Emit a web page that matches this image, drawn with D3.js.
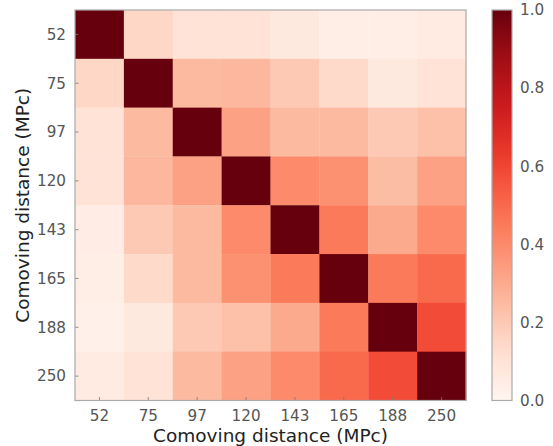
<!DOCTYPE html>
<html><head><meta charset="utf-8">
<script src="https://cdn.jsdelivr.net/npm/d3@7"></script>
<style>body{margin:0;background:#fff}svg{display:block;font-family:"DejaVu Sans",sans-serif}</style>
</head><body><svg id="c" width="553" height="446"></svg>
<script>
const distances = ["52","75","97","120","143","165","188","250"];
const row52  = [1.00,0.15,0.10,0.10,0.07,0.04,0.04,0.06];
const row75  = [0.15,1.00,0.25,0.26,0.20,0.14,0.07,0.10];
const row97  = [0.10,0.25,1.00,0.33,0.25,0.25,0.20,0.23];
const row120 = [0.10,0.26,0.33,1.00,0.40,0.38,0.24,0.33];
const row143 = [0.05,0.20,0.25,0.40,1.00,0.45,0.30,0.40];
const row165 = [0.04,0.14,0.25,0.38,0.45,1.00,0.45,0.50];
const row188 = [0.03,0.07,0.20,0.23,0.30,0.45,1.00,0.58];
const row250 = [0.06,0.10,0.25,0.33,0.40,0.50,0.58,1.00];
const matrix = [row52,row75,row97,row120,row143,row165,row188,row250];
const cbTicks = [0.0,0.2,0.4,0.6,0.8,1.0];

const svg = d3.select("#c");
const L=75, R=466, T=10, B=400.5;
const x = d3.scaleBand().domain(distances).range([L,R]);
const y = d3.scaleBand().domain(distances).range([T,B]);
const color = v => d3.interpolateReds(v);

const cells = [];
matrix.forEach((row,i)=>row.forEach((v,j)=>cells.push({r:distances[i],c:distances[j],v})));
svg.append("g").selectAll("rect").data(cells).join("rect")
  .attr("x",d=>x(d.c)).attr("y",d=>y(d.r))
  .attr("width",x.bandwidth()+0.3).attr("height",y.bandwidth()+0.3)
  .attr("fill",d=>color(d.v));

// ticks inside
const tickCol="#777";
svg.append("g").selectAll("line").data(distances).join("line")
  .attr("x1",d=>x(d)+x.bandwidth()/2).attr("x2",d=>x(d)+x.bandwidth()/2)
  .attr("y1",B).attr("y2",B-3.5).attr("stroke",tickCol).attr("stroke-width",0.8);
svg.append("g").selectAll("line").data(distances).join("line")
  .attr("y1",d=>y(d)+y.bandwidth()/2).attr("y2",d=>y(d)+y.bandwidth()/2)
  .attr("x1",L).attr("x2",L+3.5).attr("stroke",tickCol).attr("stroke-width",0.8);

svg.append("rect").attr("x",L).attr("y",T).attr("width",R-L).attr("height",B-T)
  .attr("fill","none").attr("stroke","#aaa").attr("stroke-width",1.2);

const lblCol="#555";
svg.append("g").selectAll("text").data(distances).join("text")
  .attr("x",d=>x(d)+x.bandwidth()/2).attr("y",B+20).attr("text-anchor","middle")
  .attr("font-size",15.2).attr("fill",lblCol).text(d=>d);
svg.append("g").selectAll("text").data(distances).join("text")
  .attr("x",L-9).attr("y",d=>y(d)+y.bandwidth()/2).attr("dy","0.35em").attr("text-anchor","end")
  .attr("font-size",15.2).attr("fill",lblCol).text(d=>d);

svg.append("text").attr("x",(L+R)/2).attr("y",441.5).attr("text-anchor","middle")
  .attr("font-size",18.5).attr("fill","#222").text("Comoving distance (MPc)");
svg.append("text").attr("transform",`translate(29,${(T+B)/2}) rotate(-90)`).attr("text-anchor","middle")
  .attr("font-size",18.5).attr("fill","#222").text("Comoving distance (MPc)");

// colorbar
const CL=492, CR=512;
const cy = d3.scaleLinear().domain([0,1]).range([B,T]);
const defs = svg.append("defs");
const grad = defs.append("linearGradient").attr("id","g").attr("x1",0).attr("y1",1).attr("x2",0).attr("y2",0);
d3.range(0,1.0001,0.05).forEach(t=>grad.append("stop").attr("offset",t).attr("stop-color",color(t)));
svg.append("rect").attr("x",CL).attr("y",T).attr("width",CR-CL).attr("height",B-T).attr("fill","url(#g)")
  .attr("stroke","#aaa").attr("stroke-width",1.2);
svg.append("g").selectAll("text").data(cbTicks).join("text")
  .attr("x",520).attr("y",d=>cy(d)).attr("dy","0.35em").attr("font-size",15.2).attr("fill",lblCol)
  .text(d=>d.toFixed(1));
</script></body></html>
